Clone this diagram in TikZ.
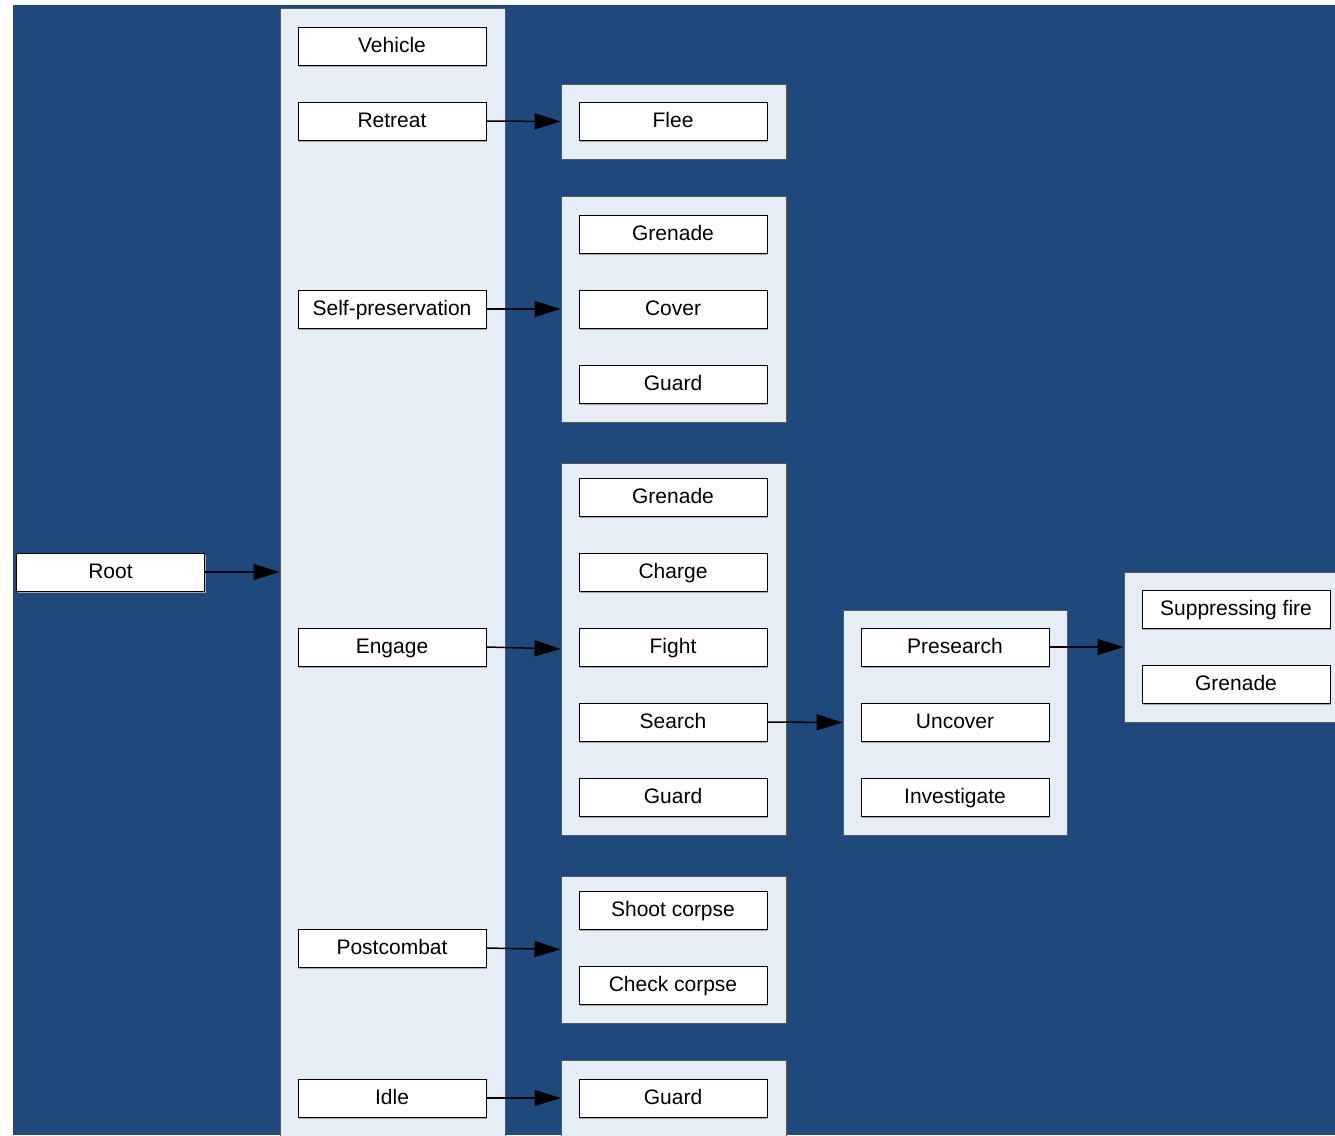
\documentclass[tikz,border=0pt]{standalone}
\usepackage{fontspec}
\setmainfont{Liberation Sans}
\usetikzlibrary{arrows.meta,shadows}
\definecolor{bgblue}{RGB}{31,73,125}
\definecolor{panelfill}{RGB}{230,237,247}
\begin{document}
\begin{tikzpicture}[x=1pt,y=-1pt,
  box/.style={draw=black,line width=0.9pt,fill=white,minimum width=188pt,minimum height=38pt,inner sep=0pt,
    text height=16pt,text depth=2.6pt,
    font=\fontsize{21}{24}\selectfont,
    general shadow={fill=gray!70,shadow xshift=1.2pt,shadow yshift=-1.5pt}},
  panel/.style={draw=black!65,line width=0.9pt,fill=panelfill,inner sep=0pt,minimum width=225pt},
  conn/.style={draw=black,line width=1.5pt,-{Triangle[length=26pt,width=16pt]}}]
\useasboundingbox (0,0) rectangle (1335,1135);
\fill[bgblue] (13,5) rectangle (1335,1135);
\begin{scope}
\clip (13,5) rectangle (1335,1135);
% panels
\node[panel,minimum height=1128pt] (P0) at (392.5,572) {};
\node[panel,minimum height=75pt] (P1) at (673.5,121.5) {};
\node[panel,minimum height=226pt] (P2) at (673.5,309) {};
\node[panel,minimum height=372pt] (P3) at (673.5,649) {};
\node[panel,minimum width=224pt,minimum height=225pt] (P4) at (955,722.5) {};
\node[panel,minimum height=150pt] (P5) at (1236.5,647) {};
\node[panel,minimum height=147pt] (P6) at (673.5,949.5) {};
\node[panel,minimum height=76pt] (P7) at (673.5,1098) {};
% boxes
\node[box] (root) at (110.5,572) {Root};
\node[box] (vehicle) at (392,46) {Vehicle};
\node[box] (retreat) at (392,121) {Retreat};
\node[box] (selfp) at (392,309) {Self-preservation};
\node[box] (engage) at (392,647) {Engage};
\node[box] (postc) at (392,948) {Postcombat};
\node[box] (idle) at (392,1098) {Idle};
\node[box] (flee) at (673,121) {Flee};
\node[box] (gren1) at (673,234) {Grenade};
\node[box] (cover) at (673,309) {Cover};
\node[box] (guard1) at (673,384) {Guard};
\node[box] (gren2) at (673,497) {Grenade};
\node[box] (charge) at (673,572) {Charge};
\node[box] (fight) at (673,647) {Fight};
\node[box] (search) at (673,722) {Search};
\node[box] (guard2) at (673,797) {Guard};
\node[box] (presearch) at (955,647) {Presearch};
\node[box] (uncover) at (955,722) {Uncover};
\node[box] (investigate) at (955,797) {Investigate};
\node[box] (suppress) at (1236,609) {Suppressing fire};
\node[box] (gren3) at (1236,684) {Grenade};
\node[box] (shoot) at (673,910) {Shoot corpse};
\node[box] (check) at (673,985) {Check corpse};
\node[box] (guard3) at (673,1098) {Guard};
% connectors
\draw[conn] (root.east) -- (P0.west);
\draw[conn] (retreat.east) -- (P1.west);
\draw[conn] (selfp.east) -- (P2.west);
\draw[conn] (engage.east) -- (P3.west);
\draw[conn] (postc.east) -- (P6.west);
\draw[conn] (idle.east) -- (P7.west);
\draw[conn] (search.east) -- (P4.west);
\draw[conn] (presearch.east) -- (P5.west);
\end{scope}
\end{tikzpicture}
\end{document}
